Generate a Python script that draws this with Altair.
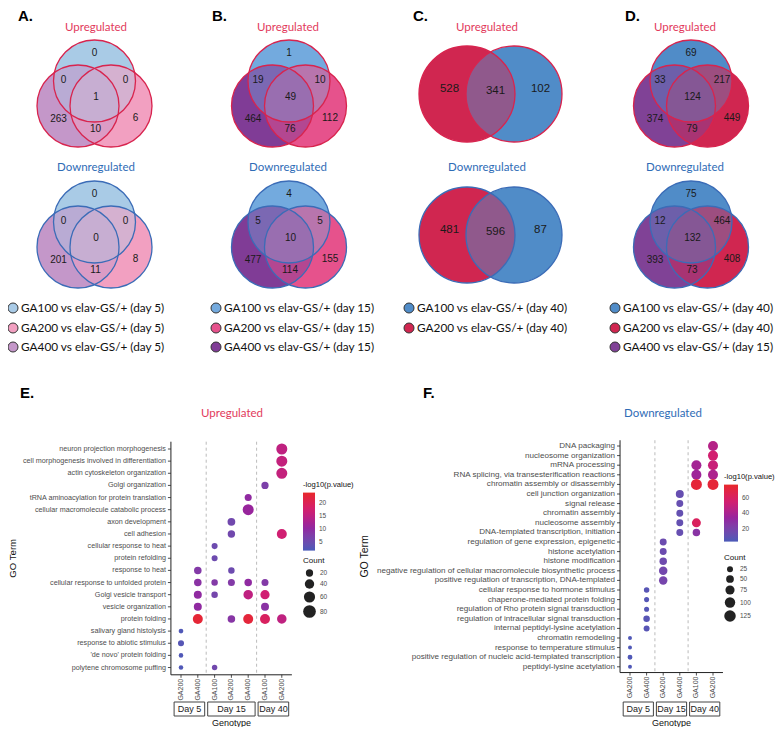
import altair as alt
import pandas as pd

# ======================= DATA =======================
# three-set Venn regions: [GA100 only, GA100&GA400, GA100&GA200, all three, GA400 only, GA400&GA200, GA200 only]
A_UP = [0, 0, 0, 1, 263, 10, 6]
A_DOWN = [0, 0, 0, 0, 201, 11, 8]
B_UP = [1, 19, 10, 49, 464, 76, 112]
B_DOWN = [4, 5, 5, 10, 477, 114, 155]
# two-set Venn regions: [GA200 only, both, GA100 only]
C_UP = [528, 341, 102]
C_DOWN = [481, 596, 87]
D_UP = [69, 33, 217, 124, 374, 79, 449]
D_DOWN = [75, 12, 464, 132, 393, 73, 408]

A_SETS = ["GA100 vs elav-GS/+ (day 5)", "GA200 vs elav-GS/+ (day 5)", "GA400 vs elav-GS/+ (day 5)"]
B_SETS = ["GA100 vs elav-GS/+ (day 15)", "GA200 vs elav-GS/+ (day 15)", "GA400 vs elav-GS/+ (day 15)"]
C_SETS = ["GA100 vs elav-GS/+ (day 40)", "GA200 vs elav-GS/+ (day 40)"]
D_SETS = ["GA100 vs elav-GS/+ (day 40)", "GA200 vs elav-GS/+ (day 40)", "GA400 vs elav-GS/+ (day 15)"]

E_TERMS = [
    "neuron projection morphogenesis",
    "cell morphogenesis involved in differentiation",
    "actin cytoskeleton organization",
    "Golgi organization",
    "tRNA aminoacylation for protein translation",
    "cellular macromolecule catabolic process",
    "axon development",
    "cell adhesion",
    "cellular response to heat",
    "protein refolding",
    "response to heat",
    "cellular response to unfolded protein",
    "Golgi vesicle transport",
    "vesicle organization",
    "protein folding",
    "salivary gland histolysis",
    "response to abiotic stimulus",
    "'de novo' protein folding",
    "polytene chromosome puffing",
]
E_GENOTYPES = ["GA200", "GA400", "GA100", "GA200", "GA400", "GA100", "GA200"]
E_DAYS = ["Day 5", "Day 5", "Day 15", "Day 15", "Day 15", "Day 40", "Day 40"]
# (term index, genotype column, Count, -log10(p.value))
E_DOTS = [
    (0, 6, 58, 15), (1, 6, 58, 15.5), (2, 6, 58, 15.5), (3, 5, 20, 7),
    (4, 4, 18, 10), (5, 4, 58, 11), (6, 3, 24, 5.5), (7, 3, 21, 5.5), (7, 6, 46, 17),
    (8, 2, 11, 5), (9, 2, 11, 5), (10, 1, 22, 8), (10, 3, 14, 5),
    (11, 1, 22, 9), (11, 2, 14, 8), (11, 3, 18, 8), (11, 4, 22, 10), (11, 5, 18, 8),
    (12, 1, 26, 10), (12, 2, 14, 6), (12, 4, 41, 15), (12, 5, 38, 17),
    (13, 1, 26, 10), (13, 5, 26, 9),
    (14, 1, 46, 23), (14, 3, 22, 8.5), (14, 4, 46, 22.5), (14, 5, 46, 19), (14, 6, 41, 15),
    (15, 0, 3, 2), (16, 0, 11, 2.5), (17, 0, 2, 2), (18, 0, 2, 2), (18, 2, 7, 5.5),
]

F_TERMS = [
    "DNA packaging",
    "nucleosome organization",
    "mRNA processing",
    "RNA splicing, via transesterification reactions",
    "chromatin assembly or disassembly",
    "cell junction organization",
    "signal release",
    "chromatin assembly",
    "nucleosome assembly",
    "DNA-templated transcription, initiation",
    "regulation of gene expression, epigenetic",
    "histone acetylation",
    "histone modification",
    "negative regulation of cellular macromolecule biosynthetic process",
    "positive regulation of transcription, DNA-templated",
    "cellular response to hormone stimulus",
    "chaperone-mediated protein folding",
    "regulation of Rho protein signal transduction",
    "regulation of intracellular signal transduction",
    "internal peptidyl-lysine acetylation",
    "chromatin remodeling",
    "response to temperature stimulus",
    "positive regulation of nucleic acid-templated transcription",
    "peptidyl-lysine acetylation",
]
F_GENOTYPES = ["GA200", "GA400", "GA200", "GA400", "GA100", "GA200"]
F_DAYS = ["Day 5", "Day 5", "Day 15", "Day 15", "Day 40", "Day 40"]
F_DOTS = [
    (0, 5, 92, 44), (1, 5, 92, 55), (2, 4, 92, 38), (2, 5, 92, 51),
    (3, 4, 92, 36), (3, 5, 92, 41), (4, 4, 113, 73), (4, 5, 113, 73),
    (5, 3, 54, 12), (6, 3, 38, 12), (7, 3, 38, 11), (8, 3, 38, 11), (8, 4, 71, 61),
    (9, 3, 38, 12), (9, 4, 46, 27), (10, 2, 38, 14), (11, 2, 38, 14), (12, 2, 46, 15),
    (13, 2, 62, 17), (14, 2, 62, 18), (15, 1, 19, 7), (16, 1, 15, 6), (17, 1, 15, 6),
    (18, 1, 31, 7), (19, 1, 25, 7), (20, 0, 4, 4.5), (21, 0, 4, 4.5), (22, 0, 12, 4.5), (23, 0, 4, 4.5),
]

# ======================= STYLE / LAYOUT =======================
FONT_AX = "Liberation Sans"
FONT_TXT = "Lato"
UP_RED = "#e23a5c"
DOWN_BLUE = "#2f6cb6"
EDGE_UP = "#d8244e"
EDGE_DOWN = "#3b6cb7"
GRAD = ["#4a5ab8", "#9325a0", "#d21f70", "#e8282a"]   # colour stops at 0, 0.4, 0.7, 1 of the range

A_COLORS = ["#a9cbe7", "#f2a0c1", "#c497c9"]   # GA100, GA200, GA400
B_COLORS = ["#74aade", "#e6528c", "#803c96"]
C_COLORS = ["#508cc8", "#d02650"]
D_COLORS = ["#508cc8", "#d02650", "#804296"]

PANELS = [
    dict(cx=94.5, tx=96, lx=18, gx=13, up=A_UP, down=A_DOWN, sets=A_SETS, colors=A_COLORS, letter="A."),
    dict(cx=289, tx=288, lx=212, gx=216, up=B_UP, down=B_DOWN, sets=B_SETS, colors=B_COLORS, letter="B."),
    dict(cx=490.5, tx=487, lx=413, gx=409, up=C_UP, down=C_DOWN, sets=C_SETS, colors=C_COLORS, letter="C."),
    dict(cx=691, tx=685, lx=625, gx=615, up=D_UP, down=D_DOWN, sets=D_SETS, colors=D_COLORS, letter="D."),
]
CIRC3 = {"T": (0, 0), "L": (-16.5, 25), "R": (16.5, 25)}
R3 = 41
LAB3 = [(0, -28), (-31, -1), (31, -1), (1.5, 16), (-36, 37.5), (1, 47.5), (41, 37)]
CIRC2 = {"L": (-23.5, 0), "R": (23.5, 0)}
R2 = 48
LAB2 = [(-41, -5), (5, -3), (50, -5)]
LEG_Y = [308, 328, 347]

circ_rows, edge_rows, num_rows, title_rows, leg_rows, legtxt_rows = [], [], [], [], [], []
seq = 0
for p in PANELS:
    cols = p["colors"]
    for counts, cy3, cy2, edge, title, tcol, ty in [
        (p["up"], 81, 94, EDGE_UP, "Upregulated", UP_RED, 28),
        (p["down"], 222, 235, EDGE_DOWN, "Downregulated", DOWN_BLUE, 168),
    ]:
        if len(counts) == 7:
            cy, centers, size, labs, fs = cy3, CIRC3, (2 * R3) ** 2, LAB3, 10
            fillc = {"T": cols[0], "L": cols[2], "R": cols[1]}
            passes = [("T", 1.0), ("L", 1.0), ("R", 1.0), ("L", 0.5), ("T", 0.4)]
        else:
            cy, centers, size, labs, fs = cy2, CIRC2, (2 * R2) ** 2, LAB2, 11.5
            fillc = {"L": cols[1], "R": cols[0]}
            passes = [("L", 1.0), ("R", 1.0), ("L", 0.5)]
        for k, a in passes:
            dx, dy = centers[k]
            circ_rows.append(dict(x=p["cx"] + dx, y=cy + dy, size=size, fill=fillc[k], alpha=a, seq=seq))
            seq += 1
        for k, (dx, dy) in centers.items():
            edge_rows.append(dict(x=p["cx"] + dx, y=cy + dy, size=size, edge=edge))
        for (dx, dy), v in zip(labs, counts):
            num_rows.append(dict(x=p["cx"] + dx, y=cy + dy, label=str(v), fs=fs))
        title_rows.append(dict(x=p["tx"], y=ty, label=title, c=tcol))
    for i, (s, c) in enumerate(zip(p["sets"], cols)):
        leg_rows.append(dict(x=p["gx"], y=LEG_Y[i], fill=c))
        legtxt_rows.append(dict(x=p["gx"] + 8, y=LEG_Y[i], label=s))

title_rows.append(dict(x=232, y=414, label="Upregulated", c=UP_RED))
title_rows.append(dict(x=663, y=414, label="Downregulated", c=DOWN_BLUE))
letter_rows = [dict(x=p["lx"], y=8.5, label=p["letter"]) for p in PANELS]
letter_rows += [dict(x=20, y=386, label="E."), dict(x=423, y=386, label="F.")]

# page-pixel scales for the Venn part (page origin is offset by the 8px margin)
XT = alt.X("x:Q", scale=alt.Scale(domain=[8, 775], nice=False, zero=False), axis=None)
YT = alt.Y("y:Q", scale=alt.Scale(domain=[8, 727], nice=False, zero=False, reverse=True), axis=None)

fills = alt.Chart(pd.DataFrame(circ_rows)).mark_circle(strokeWidth=0).encode(
    x=XT, y=YT,
    size=alt.Size("size:Q", scale=None),
    color=alt.Color("fill:N", scale=None),
    opacity=alt.Opacity("alpha:Q", scale=None),
    order=alt.Order("seq:Q"),
)
edges = alt.Chart(pd.DataFrame(edge_rows)).mark_point(filled=False, strokeWidth=1.3, opacity=1).encode(
    x=XT, y=YT, size=alt.Size("size:Q", scale=None), color=alt.Color("edge:N", scale=None)
)
nums = alt.Chart(pd.DataFrame(num_rows)).mark_text(font=FONT_AX, color="#1a1a1a", baseline="middle").encode(
    x=XT, y=YT, text="label:N", size=alt.Size("fs:Q", scale=None)
)
titles = alt.Chart(pd.DataFrame(title_rows)).mark_text(font=FONT_TXT, fontSize=11.5, baseline="middle").encode(
    x=XT, y=YT, text="label:N", color=alt.Color("c:N", scale=None)
)
letters = alt.Chart(pd.DataFrame(letter_rows)).mark_text(
    font=FONT_AX, fontSize=15, fontWeight="bold", align="left", baseline="top", color="#000"
).encode(x=XT, y=YT, text="label:N")
legdots = alt.Chart(pd.DataFrame(leg_rows)).mark_circle(size=100, stroke="#333", strokeWidth=1, opacity=1).encode(
    x=XT, y=YT, color=alt.Color("fill:N", scale=None)
)
legtxt = alt.Chart(pd.DataFrame(legtxt_rows)).mark_text(
    font=FONT_TXT, fontSize=11.8, align="left", baseline="middle", color="#111"
).encode(x=XT, y=YT, text="label:N")

venn = alt.layer(fills, edges, nums, titles, letters, legdots, legtxt)


def dot_panel(terms, genotypes, days, dots, x0, xstep, y0, ystep, label_fs, title_fs, goterm_x,
              cmin, cmax, cvals, sdom, srange, svals, cleg, sleg, glen, gth):
    ng, nt = len(genotypes), len(terms)
    XS = alt.Scale(domain=[(8 - x0) / xstep, (775 - x0) / xstep], nice=False, zero=False)
    YS = alt.Scale(domain=[(8 - y0) / ystep, (727 - y0) / ystep], nice=False, zero=False, reverse=True)

    def X(f):
        return alt.X(f, scale=XS, axis=None)

    def Y(f):
        return alt.Y(f, scale=YS, axis=None)

    xl, xr, yt, yb = -0.6, ng - 0.4, -0.6, nt - 0.4
    dots_df = pd.DataFrame({
        "gi": [d[1] for d in dots], "ti": [d[0] for d in dots],
        "count": [d[2] for d in dots], "logp": [d[3] for d in dots],
    })
    term_df = pd.DataFrame({"ti": list(range(nt)), "term": terms, "xa": xl})
    geno_df = pd.DataFrame({"gi": list(range(ng)), "g": genotypes, "yb": yb})
    axis_df = pd.DataFrame({"xa": [xl, xl], "ya": [yt, yb], "xb": [xl, xr], "yb": [yb, yb]})
    spans = []
    for day in dict.fromkeys(days):
        idx = [i for i, d in enumerate(days) if d == day]
        spans.append({"day": day, "g0": idx[0] - 0.5, "g1": idx[-1] + 0.5, "mid": (idx[0] + idx[-1]) / 2})
    span_df = pd.DataFrame(spans)
    div_df = pd.DataFrame({"gx": [s["g0"] for s in spans[1:]], "ya": yt, "yb": yb})
    gt_df = pd.DataFrame({"xm": [(xl + xr) / 2], "t": ["Genotype"]})
    go_df = pd.DataFrame({"ym": [(nt - 1) / 2], "t": ["GO Term"]})

    span = cmax - cmin
    cdom = [cmin, cmin + 0.4 * span, cmin + 0.7 * span, cmax]

    div = alt.Chart(div_df).mark_rule(color="#aaaaaa", strokeDash=[3, 3], strokeWidth=0.8).encode(
        x=X("gx:Q"), y=Y("ya:Q"), y2="yb:Q")
    axl = alt.Chart(axis_df).mark_rule(color="#222", strokeWidth=1).encode(
        x=X("xa:Q"), y=Y("ya:Q"), x2="xb:Q", y2="yb:Q")
    yticks = alt.Chart(term_df).mark_rule(color="#222", strokeWidth=0.8, x2Offset=-3).encode(
        x=X("xa:Q"), x2="xa:Q", y=Y("ti:Q"))
    ylab = alt.Chart(term_df).mark_text(
        font=FONT_AX, fontSize=label_fs, color="#4d4d4d", align="right", baseline="middle", dx=-5
    ).encode(x=X("xa:Q"), y=Y("ti:Q"), text="term:N")
    xticks = alt.Chart(geno_df).mark_rule(color="#222", strokeWidth=0.8, y2Offset=3).encode(
        x=X("gi:Q"), y=Y("yb:Q"), y2="yb:Q")
    xlab = alt.Chart(geno_df).mark_text(
        font=FONT_AX, fontSize=7, color="#4d4d4d", angle=270, align="right", baseline="middle", dx=-4
    ).encode(x=X("gi:Q"), y=Y("yb:Q"), text="g:N")
    pts = alt.Chart(dots_df).mark_circle(opacity=1).encode(
        x=X("gi:Q"), y=Y("ti:Q"),
        color=alt.Color("logp:Q", scale=alt.Scale(domain=cdom, range=GRAD, interpolate="lab"),
                        legend=alt.Legend(
                            orient="none", legendX=cleg[0], legendY=cleg[1], direction="vertical",
                            gradientLength=glen, gradientThickness=gth, gradientStrokeWidth=0,
                            title="-log10(p.value)", titleFont=FONT_AX, titleFontSize=7.6,
                            titleFontWeight="normal", titleColor="#111", titlePadding=4,
                            labelFont=FONT_AX, labelFontSize=6.5, labelColor="#4d4d4d", labelOffset=4,
                            values=cvals)),
        size=alt.Size("count:Q", scale=alt.Scale(domain=sdom, range=srange, zero=False),
                      legend=alt.Legend(
                          orient="none", legendX=sleg[0], legendY=sleg[1], title="Count",
                          titleFont=FONT_AX, titleFontSize=8, titleFontWeight="normal", titleColor="#111",
                          titlePadding=4, labelFont=FONT_AX, labelFontSize=6.5, labelColor="#4d4d4d",
                          values=svals, symbolFillColor="#222", symbolStrokeWidth=0, symbolType="circle",
                          symbolOpacity=1, rowPadding=2)),
    )
    boxes = alt.Chart(span_df).mark_rect(
        fillOpacity=0, stroke="#444", strokeWidth=1, xOffset=1.5, x2Offset=-1.5
    ).encode(x=X("g0:Q"), x2="g1:Q", y=alt.value(694), y2=alt.value(708))
    dtext = alt.Chart(span_df).mark_text(font=FONT_AX, fontSize=9, color="#222", baseline="middle").encode(
        x=X("mid:Q"), y=alt.value(701), text="day:N")
    gtitle = alt.Chart(gt_df).mark_text(font=FONT_AX, fontSize=9, color="#111", baseline="middle").encode(
        x=X("xm:Q"), y=alt.value(714.5), text="t:N")
    gotitle = alt.Chart(go_df).mark_text(
        font=FONT_AX, fontSize=title_fs, color="#111", angle=270, baseline="middle", align="center"
    ).encode(x=alt.value(goterm_x - 8), y=Y("ym:Q"), text="t:N")
    return alt.layer(div, axl, yticks, ylab, xticks, xlab, pts, boxes, dtext, gtitle, gotitle)


E = dot_panel(E_TERMS, E_GENOTYPES, E_DAYS, E_DOTS, 181, 16.8, 449, 12.14, 7.2, 9.6, 13,
              1.5, 24, [5, 10, 15, 20], [20, 80], [53, 161], [20, 40, 60, 80],
              (295, 473), (295, 549), 58, 12)
F = dot_panel(F_TERMS, F_GENOTYPES, F_DAYS, F_DOTS, 630, 16.6, 446, 9.6, 8.1, 10.5, 365,
              3, 77, [20, 40, 60], [25, 125], [36, 132], [25, 50, 75, 100, 125],
              (716, 465), (716, 546), 57, 14)

chart = alt.layer(venn, E, F).resolve_scale(
    x="independent", y="independent", color="independent", size="independent"
).resolve_legend(color="independent", size="independent").properties(
    width=767, height=719, padding=0, autosize=alt.AutoSizeParams(type="none")
).configure_view(stroke="transparent")

chart.save("out.html", embed_options={"renderer": "svg", "actions": False})
